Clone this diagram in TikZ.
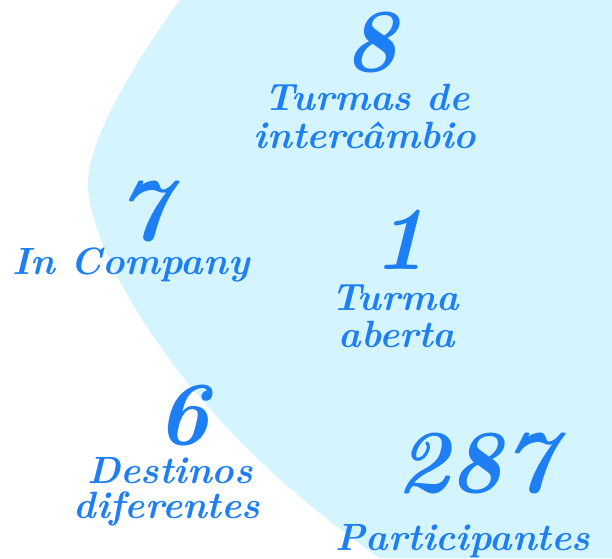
\documentclass[tikz,border=0pt]{standalone}
\usepackage{fontspec}
\definecolor{blobcyan}{RGB}{212,245,255}
\definecolor{numblue}{RGB}{30,127,245}
\tikzset{
  numtxt/.style={anchor=base, text=numblue, inner sep=0pt,
    text height=0.66em, text depth=0pt,
    font=\fontsize{90}{94}\selectfont\bfseries\itshape},
  lbltxt/.style={anchor=base, text=numblue, inner sep=0pt,
    text height=0.66em, text depth=0.18em,
    font=\fontsize{38}{40}\selectfont\bfseries\itshape}
}
\begin{document}
\begin{tikzpicture}[x=1pt,y=-1pt]
\useasboundingbox (0,0) rectangle (612,558);
\fill[blobcyan] (180,0) .. controls (150,40) and (83,140) .. (88,190)
  .. controls (95,260) and (180,420) .. (380,558)
  -- (612,558) -- (612,0) -- cycle;
\node[numtxt] (n8) at (371,71) {8};
\node[lbltxt] (l8a) at (367,110) {Turmas de};
\node[lbltxt] (l8b) at (365,148) {intercâmbio};
\node[numtxt] (n7) at (143,240) {7};
\node[lbltxt] (l7) at (131,274) {In Company};
\node[numtxt] (n1) at (400,269) {1};
\node[lbltxt] (l1a) at (395,310) {Turma};
\node[lbltxt] (l1b) at (397,347) {aberta};
\node[numtxt] (n6) at (183,444) {6};
\node[lbltxt] (l6a) at (170,483) {Destinos};
\node[lbltxt] (l6b) at (167,518) {diferentes};
\node[numtxt] (n287) at (476,492) {287};
\node[lbltxt] (lpart) at (463,550) {Participantes};
\end{tikzpicture}
\end{document}
